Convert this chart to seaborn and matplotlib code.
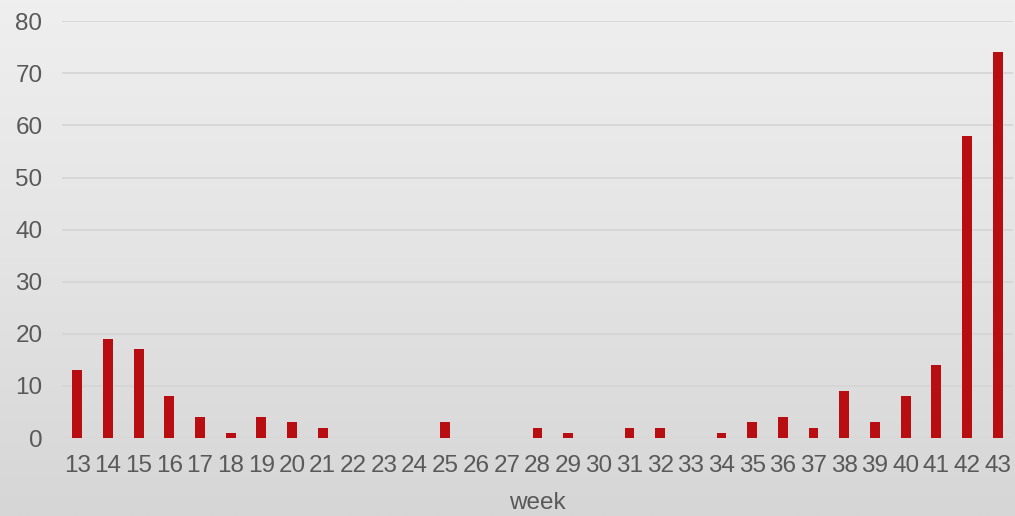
"""
Weekly counts bar chart on a soft grey gradient background.
"""
import matplotlib
matplotlib.use("Agg")
import matplotlib.pyplot as plt
import seaborn as sns
import numpy as np
import pandas as pd

weeks = [str(w) for w in range(13, 44)]
counts = [13, 19, 17, 8, 4, 1, 4, 3, 2, 0, 0, 0, 3, 0, 0, 2, 1, 0, 2, 2,
          0, 1, 3, 4, 2, 9, 3, 8, 14, 58, 74]
y_ticks = [0, 10, 20, 30, 40, 50, 60, 70, 80]

BAR_COLOR = "#b80e12"
TEXT_COLOR = "#595959"
GRID_COLOR = "#d6d6d6"

sns.set_style("white")
plt.rcParams["font.family"] = ["Liberation Sans", "DejaVu Sans"]

df = pd.DataFrame({"week": weeks, "count": counts})

fig = plt.figure(figsize=(10.15, 5.16), dpi=100)

# background gradient (light at top, darker at bottom)
bg = fig.add_axes([0, 0, 1, 1], zorder=0)
grad = np.linspace(0, 1, 256).reshape(-1, 1)
bg.imshow(grad, aspect="auto", cmap=matplotlib.colors.LinearSegmentedColormap.from_list(
    "bg", ["#efefef", "#e4e4e4", "#d6d6d6"]), extent=[0, 1, 0, 1])
bg.set_axis_off()

ax = fig.add_axes([0.061, 0.151, 0.937, 0.808], zorder=1)
ax.patch.set_alpha(0)
sns.barplot(data=df, x="week", y="count", color=BAR_COLOR, width=0.32,
            saturation=1, linewidth=0, ax=ax)

ax.set_ylim(0, 80)
ax.set_yticks(y_ticks)
ax.yaxis.grid(True, color=GRID_COLOR, linewidth=1.3)
ax.set_axisbelow(True)
for s in ax.spines.values():
    s.set_visible(False)
ax.tick_params(axis="both", length=0, labelsize=17.5, labelcolor=TEXT_COLOR)
ax.tick_params(axis="y", pad=14)
ax.tick_params(axis="x", pad=12)
ax.set_xlabel("week", fontsize=17.5, color=TEXT_COLOR, labelpad=11)
ax.set_ylabel("")

plt.savefig("out.png", dpi=100)
